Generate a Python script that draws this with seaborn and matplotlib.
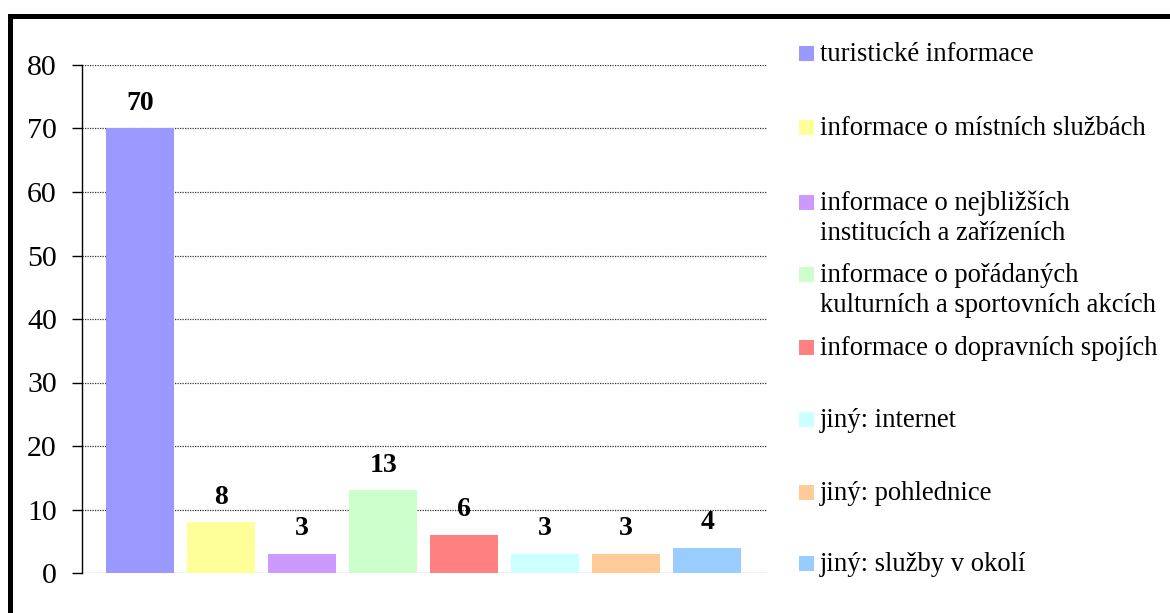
import matplotlib
matplotlib.use("Agg")
import matplotlib.pyplot as plt
from matplotlib.patches import Rectangle
import seaborn as sns
import pandas as pd

categories = [
    "turistické informace",
    "informace o místních službách",
    "informace o nejbližších\ninstitucích a zařízeních",
    "informace o pořádaných\nkulturních a sportovních akcích",
    "informace o dopravních spojích",
    "jiný: internet",
    "jiný: pohlednice",
    "jiný: služby v okolí",
]
values = [70, 8, 3, 13, 6, 3, 3, 4]
colors = ["#9999FF", "#FFFF99", "#CC99FF", "#CCFFCC",
          "#FF8080", "#CCFFFF", "#FFCC99", "#99CCFF"]
y_ticks = [0, 10, 20, 30, 40, 50, 60, 70, 80]

sns.set_style("white")
plt.rcParams["font.family"] = ["Liberation Serif", "DejaVu Serif"]
plt.rcParams["text.color"] = "black"
plt.rcParams["ytick.color"] = "black"

W, H = 1170, 613
fig = plt.figure(figsize=(W / 100, H / 100), dpi=100)
ax = fig.add_axes([82 / W, 1 - 573 / H, (767 - 82) / W, (573 - 65) / H])

df = pd.DataFrame({"kategorie": categories, "pocet": values})
sns.barplot(data=df, x="kategorie", y="pocet", hue="kategorie",
            palette=colors, order=categories, hue_order=categories,
            width=0.84, dodge=False, legend=False, saturation=1,
            linewidth=0, ax=ax)

ax.set_xlim(-0.72, 7.74)
ax.set_ylim(0, 80)
ax.set_yticks(y_ticks)
ax.set_yticklabels([str(t) for t in y_ticks], fontsize=21.5, color="black")
ax.set_xticks([])
ax.set_xlabel("")
ax.set_ylabel("")

ax.yaxis.grid(True, linestyle=(0, (1, 1)), color="#333333", linewidth=0.9)
ax.set_axisbelow(True)
for side in ("top", "right", "bottom"):
    ax.spines[side].set_visible(False)
ax.spines["left"].set_color("black")
ax.spines["left"].set_linewidth(1.0)
ax.tick_params(axis="y", which="major", direction="out", length=7,
               width=1.0, color="black", pad=11, left=True)

for cont in ax.containers:
    ax.bar_label(cont, fmt="%d", padding=9, fontsize=20,
                 fontweight="bold", color="black")

# legend drawn entry by entry on the right (first-line baselines in px)
legend_baselines = [61, 135, 210, 282, 355, 427, 500, 571]
line_step = 30
for lab, col, yb in zip(categories, colors, legend_baselines):
    fig.add_artist(Rectangle((799 / W, 1 - yb / H), 15 / W, 15 / H,
                             transform=fig.transFigure, facecolor=col,
                             edgecolor="none"))
    for i, line in enumerate(lab.split("\n")):
        fig.text(820 / W, 1 - (yb + i * line_step) / H, line, fontsize=19.2,
                 va="baseline", ha="left", color="black")

# heavy chart-area frame
fig.add_artist(Rectangle((10 / W, -0.2), 1.5, 1 - 16 / H + 0.2,
                         transform=fig.transFigure, fill=False,
                         edgecolor="black", linewidth=3.6, clip_on=False))

fig.savefig("out.png", dpi=100, facecolor="white")
